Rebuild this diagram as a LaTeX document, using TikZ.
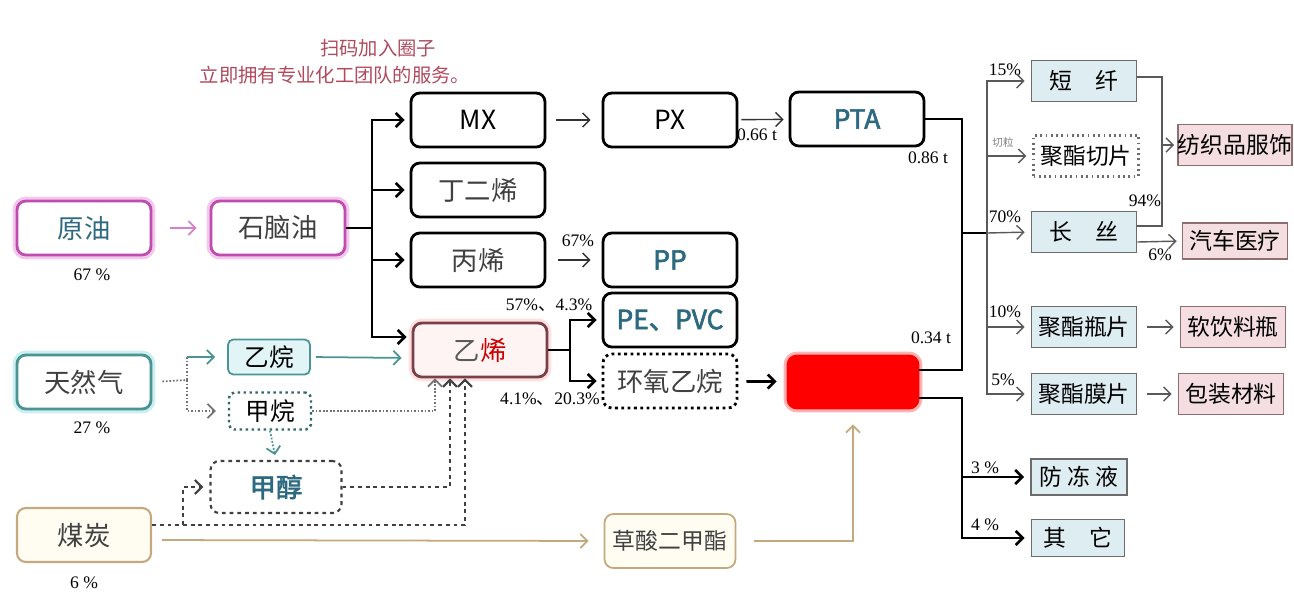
\documentclass[tikz,border=0pt]{standalone}
\usepackage{fontspec}
\setmainfont{Liberation Serif}
\newfontfamily\cjk[AutoFakeBold=2.5]{Noto Sans CJK SC}
\usetikzlibrary{arrows.meta}

\definecolor{oilc}{HTML}{C04CB0}
\definecolor{oilglow}{HTML}{F2C8EC}
\definecolor{gasc}{HTML}{4A9494}
\definecolor{gasglow}{HTML}{CDEFF2}
\definecolor{coalc}{HTML}{C4A87E}
\definecolor{coalfill}{HTML}{FFFCF2}
\definecolor{bluetxt}{HTML}{2D6A80}
\definecolor{ethc}{HTML}{7A4048}
\definecolor{ethfill}{HTML}{FFF4F4}
\definecolor{prodfill}{HTML}{DDEDF1}
\definecolor{usefill}{HTML}{F5DEE1}
\definecolor{usec}{HTML}{8E6E70}
\definecolor{handc}{HTML}{B04A5E}

\begin{document}
\begin{tikzpicture}[x=0.02cm,y=-0.02cm,
  >={Straight Barb[length=4pt,width=8pt]},
  box/.style={draw, rounded corners=5pt, line width=1.6pt, fill=white,
    minimum width=2.68cm, minimum height=1.08cm, inner sep=0pt,
    font=\cjk\fontsize{15}{17}\selectfont},
  glow/.style={preaction={draw=#1, line width=5pt}},
  small/.style={draw, rounded corners=3pt, line width=1pt, inner sep=0pt,
    minimum width=1.64cm, minimum height=0.7cm, font=\cjk\fontsize{14}{16}\selectfont},
  prod/.style={draw=gray!85!black, line width=1pt, fill=prodfill, inner sep=0pt,
    minimum width=2.1cm, minimum height=0.82cm, font=\cjk\fontsize{13}{15}\selectfont},
  use/.style={draw=usec, line width=1pt, fill=usefill, inner sep=0pt,
    minimum width=2.1cm, minimum height=0.82cm, font=\cjk\fontsize{13}{15}\selectfont},
  pct/.style={inner sep=0pt, font=\fontsize{10}{12}\selectfont},
  thk/.style={line width=1.5pt},
  thn/.style={line width=0.8pt, draw=gray!70!black},
  dsh/.style={line width=1.2pt, draw=black!75, dash pattern=on 2.2pt off 2.2pt},
  dts/.style={line width=1pt, draw=gasc, densely dotted}]
\useasboundingbox (0,0) rectangle (1294,613);

% header
\node[handc, font=\cjk\fontsize{11}{13}\selectfont] (hd1) at (378,48) {扫码加入圈子};
\node[handc, font=\cjk\fontsize{11}{13}\selectfont] (hd2) at (335,75) {立即拥有专业化工团队的服务。};

% sources
\node[box, draw=oilc, glow=oilglow, text=bluetxt] (yuanyou) at (84,228) {原油};
\node[box, draw=oilc, glow=oilglow, text=black!75] (naphtha) at (278,228) {石脑油};
\node[box, draw=gasc, glow=gasglow, text=black!75] (gas) at (84,382) {天然气};
\node[box, draw=coalc, fill=coalfill, line width=1.2pt, text=black!75] (coal) at (84,535) {煤炭};
\node[pct] (p67) at (92,275) {67 \%};
\node[pct] (p27) at (92,428) {27 \%};
\node[pct] (p6) at (84,583) {6 \%};

\node[small, draw=gasc, fill=gasglow!60] (yiwan) at (269,357) {乙烷};
\node[small, draw=gasc!70!black, line width=1.4pt, dotted, minimum height=0.74cm] (jiawan) at (270,411) {甲烷};
\node[box, dsh, fill=white, minimum width=2.62cm, minimum height=1.04cm,
  text=bluetxt, font=\cjk\fontsize{15}{17}\selectfont\bfseries] (jiachun) at (276,487) {甲醇};

% middle column
\node[box] (mx) at (478,120) {MX};
\node[box, text=black!75] (dingerxi) at (478,190) {丁二烯};
\node[box, text=black!75] (bingxi) at (478,260) {丙烯};
\node[box, draw=ethc, fill=ethfill, glow=red!12] (yixi) at (480,350) {\textcolor{black!65}{乙}\textcolor{red!80!black}{烯}};

\node[box] (px) at (670,120) {PX};
\node[box, text=bluetxt, font=\cjk\fontsize{15}{17}\selectfont\bfseries] (pta) at (857,119) {PTA};
\node[box, text=bluetxt, font=\cjk\fontsize{15}{17}\selectfont\bfseries] (pp) at (670,260) {PP};
\node[box, text=bluetxt, font=\cjk\fontsize{15}{17}\selectfont\bfseries] (pevc) at (670,320) {PE、PVC};
\node[box, dotted, text=black!75] (hyyw) at (670,381) {环氧乙烷};
\node[box, draw=coalc, fill=coalfill, line width=1pt, minimum width=2.62cm,
  text=black!75, font=\cjk\fontsize{13}{15}\selectfont] (cao) at (670,541) {草酸二甲酯};
\node[box, draw=red, fill=red, glow=red!30, minimum width=2.6cm, minimum height=1.04cm] (eg) at (853,382) {};

\node[pct] (p66t) at (757,135) {0.66 t};
\node[pct] (p86t) at (928,158) {0.86 t};
\node[pct] (p34t) at (931,338) {0.34 t};
\node[pct] (p67b) at (578,241) {67\%};
\node[pct] (p57) at (549,305) {57\%{\cjk 、}4.3\%};
\node[pct] (p41) at (550,399) {4.1\%{\cjk 、}20.3\%};

% right column
\node[prod] (duanxian) at (1084,81) {短\quad 纤};
\node[prod, fill=white, dotted, line width=1.2pt] (qiepian) at (1086,156) {聚酯切片};
\node[prod] (changsi) at (1084,232) {长\quad 丝};
\node[prod] (pingpian) at (1084,327) {聚酯瓶片};
\node[prod] (mopian) at (1084,394) {聚酯膜片};
\node[prod, minimum width=1.92cm, minimum height=0.72cm] (fangdong) at (1079,477) {防 冻 液};
\node[prod, minimum width=1.86cm, minimum height=0.74cm] (qita) at (1078,538) {其\quad 它};

\node[use, minimum width=2.24cm] (fangzhi) at (1235,145) {纺织品服饰};
\node[use, minimum height=0.72cm] (qiche) at (1235,241) {汽车医疗};
\node[use] (yinliao) at (1233,327) {软饮料瓶};
\node[use] (baozhuang) at (1231,394) {包装材料};

\node[pct] (p15) at (1005,70) {15\%};
\node[pct, gray, font=\cjk\fontsize{6}{7}\selectfont] (pql) at (1003,142) {切粒};
\node[pct] (p70) at (1005,217) {70\%};
\node[pct] (p10) at (1005,312) {10\%};
\node[pct] (p5) at (1003,380) {5\%};
\node[pct] (p94) at (1145,201) {94\%};
\node[pct] (p6b) at (1160,255) {6\%};
\node[pct] (p3) at (985,468) {3 \%};
\node[pct] (p4) at (985,525) {4 \%};

% junctions
\coordinate (nj) at (372,228);
\coordinate (ej) at (570,350);
\coordinate (gj) at (187,380);
\coordinate (mj) at (183,525);
\coordinate (tj) at (962,233);
\coordinate (rj) at (987,233);
\coordinate (bj) at (962,398);
\coordinate (fz) at (1162,145);

% crude oil
\draw[oilc!70, line width=1pt, ->, shorten <=0.36cm, shorten >=0.26cm] (yuanyou) -- (naphtha);
\draw[thk] (naphtha.east) -- (nj);
\draw[thk, ->, shorten >=0.1cm] (nj) |- (mx.west);
\draw[thk, ->, shorten >=0.1cm] (nj) |- (dingerxi.west);
\draw[thk, ->, shorten >=0.1cm] (nj) |- (bingxi.west);
\draw[thk, ->, shorten >=0.1cm] (nj) |- ([yshift=0.26cm]yixi.west);

% natural gas
\draw[dts, draw=black!55, shorten <=0.2cm] (gas.east) -- (gj);
\draw[dts, draw=black!55] (gj) -- (gj |- yiwan.west);
\draw[gasc, line width=1pt, ->, shorten >=0.24cm] (gj |- yiwan.west) -- (yiwan.west);
\draw[dts, draw=black!55, ->, shorten >=0.24cm] (gj) |- (jiawan.west);
\draw[gasc, line width=1pt, ->, shorten <=0.1cm, shorten >=0.2cm] (yiwan.east) -- ([yshift=-0.16cm]yixi.west);
\draw[dts, ->, shorten >=0.1cm] (jiawan.south) -- (jiachun.north);
\draw[dts, draw=black!55, ->] (jiawan.east) -| ([xshift=-0.9cm]yixi.south);

% coal
\draw[dsh, ->] (jiachun.east) -| ([xshift=-0.6cm]yixi.south);
\draw[dsh, ->] ([yshift=0.2cm]coal.east) -| ([xshift=-0.3cm]yixi.south);
\draw[dsh, ->, shorten >=0.12cm] (mj) |- (jiachun.west);
\draw[coalc, line width=1pt, ->, shorten <=0.2cm, shorten >=0.3cm] ([yshift=-0.1cm]coal.east) -- (cao.west);
\draw[coalc, line width=1pt, ->, shorten <=0.36cm, shorten >=0.3cm] (cao.east) -| (eg.south);

% middle flows
\draw[thn, draw=black!80, ->, shorten <=0.2cm, shorten >=0.22cm] (mx) -- (px);
\draw[thn, draw=black!80, ->, shorten <=0.06cm, shorten >=0.1cm] (px) -- (pta);
\draw[thn, draw=black!80, ->, shorten <=0.24cm, shorten >=0.22cm] (bingxi) -- (pp);
\draw[thk] (yixi.east) -- (ej);
\draw[thk, ->, shorten >=0.1cm] (ej) |- (pevc.west);
\draw[thk, ->, shorten >=0.1cm] (ej) |- (hyyw.west);
\draw[thk, ->, shorten <=0.16cm, shorten >=0.2cm] (hyyw) -- (eg);

% PTA and EG to polyester
\draw[thk] (pta.east) -| (tj);
\draw[thk] ([yshift=0.24cm]eg.east) -| (tj);
\draw[thk] (tj) -- (rj);
\draw[thn, ->, shorten >=0.12cm] (rj) |- (duanxian.west);
\draw[thn, ->, shorten >=0.12cm] (rj) |- (qiepian.west);
\draw[thn, ->, shorten >=0.12cm] (rj) -- (changsi.west);
\draw[thn, ->, shorten >=0.12cm] (rj) |- (pingpian.west);
\draw[thn, ->, shorten >=0.12cm] (rj) |- (mopian.west);
\draw[thk] ([yshift=-0.32cm]eg.east) -| (bj);
\draw[thk, ->, shorten >=0.12cm] (bj) |- (fangdong.west);
\draw[thk, ->, shorten >=0.12cm] (bj) |- (qita.west);

% end uses
\draw[thn] ([yshift=0.08cm]duanxian.east) -| (fz) |- ([yshift=0.12cm]changsi.east);
\draw[thn, ->, shorten >=0.06cm] (fz) -- (fangzhi.west);
\draw[thn, ->, shorten >=0.1cm] ([yshift=-0.2cm]changsi.east) -- (qiche.west);
\draw[thn, ->, shorten <=0.2cm, shorten >=0.12cm] (pingpian) -- (yinliao);
\draw[thn, ->, shorten <=0.2cm, shorten >=0.12cm] (mopian) -- (baozhuang);
\end{tikzpicture}
\end{document}
